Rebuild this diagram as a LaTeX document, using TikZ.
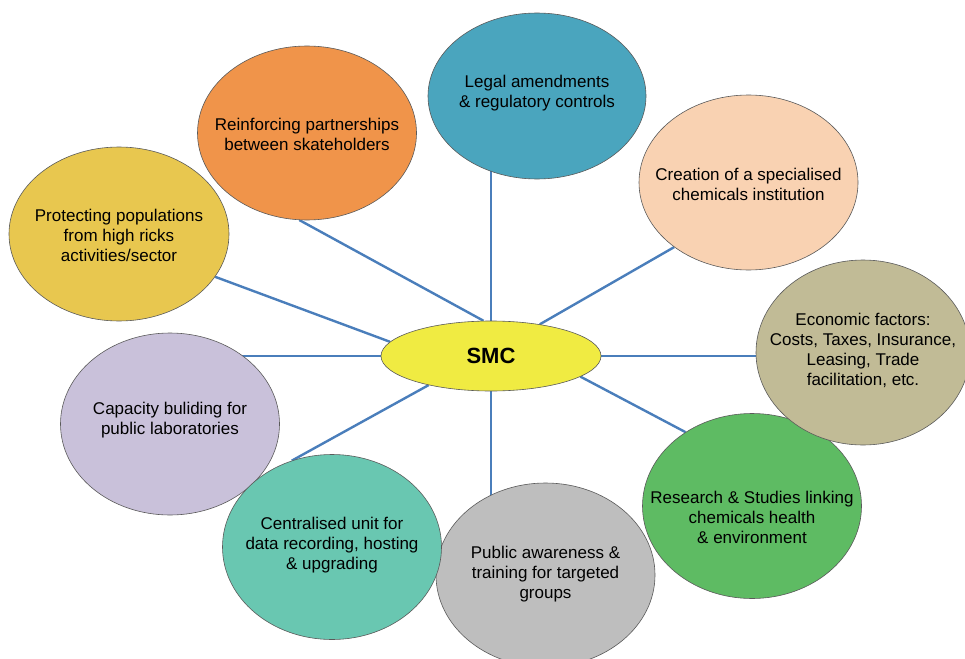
\documentclass[tikz,border=0pt]{standalone}
\usepackage{fontspec}
\setmainfont{Liberation Sans}
\usetikzlibrary{shapes.geometric,backgrounds}

\definecolor{rim}{HTML}{5A5A5A}
\definecolor{linkblue}{HTML}{4A7EBB}
\definecolor{cLegal}{HTML}{4AA5BE}
\definecolor{cPartner}{HTML}{F0944A}
\definecolor{cInstitution}{HTML}{F9D2B2}
\definecolor{cProtect}{HTML}{E8C74F}
\definecolor{cEconomic}{HTML}{C1BB96}
\definecolor{cCore}{HTML}{F0EB42}
\definecolor{cCapacity}{HTML}{C9C1DA}
\definecolor{cResearch}{HTML}{5EBB63}
\definecolor{cData}{HTML}{69C7B1}
\definecolor{cAwareness}{HTML}{BEBEBE}

\begin{document}
\begin{tikzpicture}[x=1pt,y=-1pt,
  bubble/.style={ellipse, draw=rim, line width=0.6pt, inner sep=0pt},
  txt/.style={align=center, font=\fontsize{17}{20}\selectfont, text=black, inner sep=0pt},
  link/.style={draw=linkblue, line width=2.4pt}]
\useasboundingbox (0,0) rectangle (965,658);
\clip (0,0) rectangle (965,658);

% central topic
\node[bubble, fill=cCore, minimum width=220pt, minimum height=70pt,
      font=\fontsize{22}{26}\selectfont\bfseries] (smc) at (491,356) {SMC};

% surrounding topics
\node[bubble, fill=cLegal, minimum width=218pt, minimum height=166pt,
      label={[txt,yshift=3pt]center:{Legal amendments\\\& regulatory controls}}] (legal) at (537,96) {};
\node[bubble, fill=cPartner, minimum width=219pt, minimum height=174pt,
      label={[txt,yshift=-1pt]center:{Reinforcing partnerships\\between skateholders}}] (partner) at (307,133) {};
\node[bubble, fill=cInstitution, minimum width=219pt, minimum height=175pt,
      label={[txt,yshift=-1.5pt]center:{Creation of a specialised\\chemicals institution}}] (institution) at (748.5,182.5) {};
\node[bubble, fill=cProtect, minimum width=220pt, minimum height=174pt,
      label={[txt,yshift=-1pt]center:{Protecting populations\\from high ricks\\activities/sector}}] (protect) at (119,234) {};
\node[bubble, fill=cResearch, minimum width=219pt, minimum height=185pt,
      label={[txt,yshift=-11pt]center:{Research \& Studies linking\\chemicals health\\\& environment}}] (research) at (752,506) {};
\node[bubble, fill=cEconomic, minimum width=214pt, minimum height=185pt,
      label={[txt,yshift=2.5pt]center:{Economic factors:\\Costs, Taxes, Insurance,\\Leasing, Trade\\facilitation, etc.}}] (economic) at (863,352.5) {};
\node[bubble, fill=cCapacity, minimum width=219pt, minimum height=182pt,
      label={[txt,yshift=4pt]center:{Capacity buliding for\\public laboratories}}] (capacity) at (170,424) {};
\node[bubble, fill=cAwareness, minimum width=219pt, minimum height=184pt,
      label={[txt,yshift=1pt]center:{Public awareness \&\\training for targeted\\groups}}] (awareness) at (545.5,575) {};
\node[bubble, fill=cData, minimum width=219pt, minimum height=185pt,
      label={[txt,yshift=2pt]center:{Centralised unit for\\data recording, hosting\\\& upgrading}}] (data) at (332,547) {};

% spokes behind the bubbles
\begin{scope}[on background layer]
  \draw[link] (smc.north) -- (smc.north |- legal.center);
  \draw[link] (smc.102.9) -- (partner.265.4);
  \draw[link] (smc.33.1) -- (institution.221.7);
  \draw[link] (smc.172.9) -- (protect.336.4);
  \draw[link] (smc.west) -- (smc.west -| capacity.center);
  \draw[link] (smc.205.4) -- (data.115.8);
  \draw[link] (smc.south) -- (smc.south |- awareness.center);
  \draw[link] (smc.347.6) -- (research.132.2);
  \draw[link] (smc.east) -- (smc.east -| economic.center);
\end{scope}
\end{tikzpicture}
\end{document}
